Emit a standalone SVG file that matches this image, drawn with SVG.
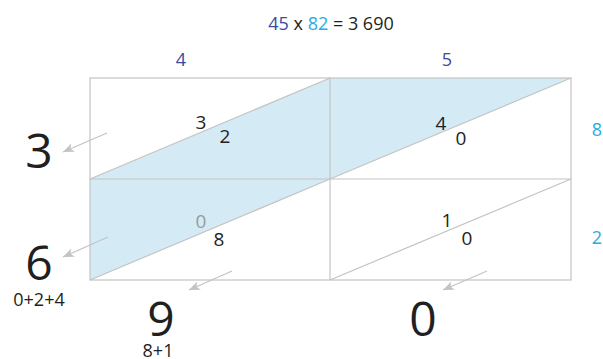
<svg xmlns="http://www.w3.org/2000/svg" width="603" height="359" viewBox="0 0 603 359">
<style>
text{font-family:"Open Sans","Noto Sans","Liberation Sans",sans-serif;fill:#231f20;text-anchor:middle}
.grid{fill:none;stroke:#c3c3c3;stroke-width:1.2}
.arr{stroke:#c3c3c3;stroke-width:1.2;fill:none;marker-end:url(#ah)}
.dk{fill:#3b4a9e}
.lt{fill:#29abe2}
.cell{font-size:19px}
.big{font-size:48px}
.sm{font-size:18px}
</style>
<defs>
<marker id="ah" markerUnits="userSpaceOnUse" markerWidth="12" markerHeight="10" refX="11" refY="4.5" orient="auto">
<path d="M0,0 L11,4.5 L0,9 L3,4.5 z" fill="#c3c3c3"/>
</marker>
</defs>
<rect width="603" height="359" fill="#fff"/>
<g id="band">
<polygon points="90,179 330,78 571,78 330,179 90,280" fill="#d4ebf5"/>
</g>
<g id="grid">
<rect class="grid" x="90" y="78" width="481" height="202"/>
<line class="grid" x1="330" y1="78" x2="330" y2="280"/>
<line class="grid" x1="90" y1="179" x2="571" y2="179"/>
<line class="grid" x1="90" y1="179" x2="330" y2="78"/>
<line class="grid" x1="330" y1="179" x2="571" y2="78"/>
<line class="grid" x1="90" y1="280" x2="330" y2="179"/>
<line class="grid" x1="330" y1="280" x2="571" y2="179"/>
</g>
<g id="title">
<text x="331" y="30" font-size="18"><tspan class="dk">45</tspan> x <tspan class="lt">82</tspan> = 3 690</text>
</g>
<g id="factors">
<text class="sm dk" x="181" y="66">4</text>
<text class="sm dk" x="447" y="66">5</text>
<text class="sm lt" x="597" y="136">8</text>
<text class="sm lt" x="597" y="244">2</text>
</g>
<g id="cell-tl">
<text class="cell" x="201" y="129">3</text>
<text class="cell" x="225" y="143">2</text>
</g>
<g id="cell-tr">
<text class="cell" x="441" y="130">4</text>
<text class="cell" x="461" y="145">0</text>
</g>
<g id="cell-bl">
<text class="cell" x="201" y="228" fill="#999" style="fill:#9a9a9a">0</text>
<text class="cell" x="219" y="246">8</text>
</g>
<g id="cell-br">
<text class="cell" x="447" y="227">1</text>
<text class="cell" x="467" y="245">0</text>
</g>
<g id="connectors">
<line class="arr" x1="107" y1="133" x2="63" y2="152"/>
<line class="arr" x1="108" y1="237" x2="63" y2="257"/>
<line class="arr" x1="232" y1="271" x2="189" y2="290"/>
<line class="arr" x1="487" y1="271" x2="443" y2="290"/>
</g>
<g id="results">
<text class="big" x="39" y="168">3</text>
<text class="big" x="39" y="280">6</text>
<text class="sm" x="39" y="306">0+2+4</text>
<text class="big" x="161" y="336">9</text>
<text class="sm" x="158" y="357">8+1</text>
<text class="big" x="423" y="336">0</text>
</g>
</svg>
